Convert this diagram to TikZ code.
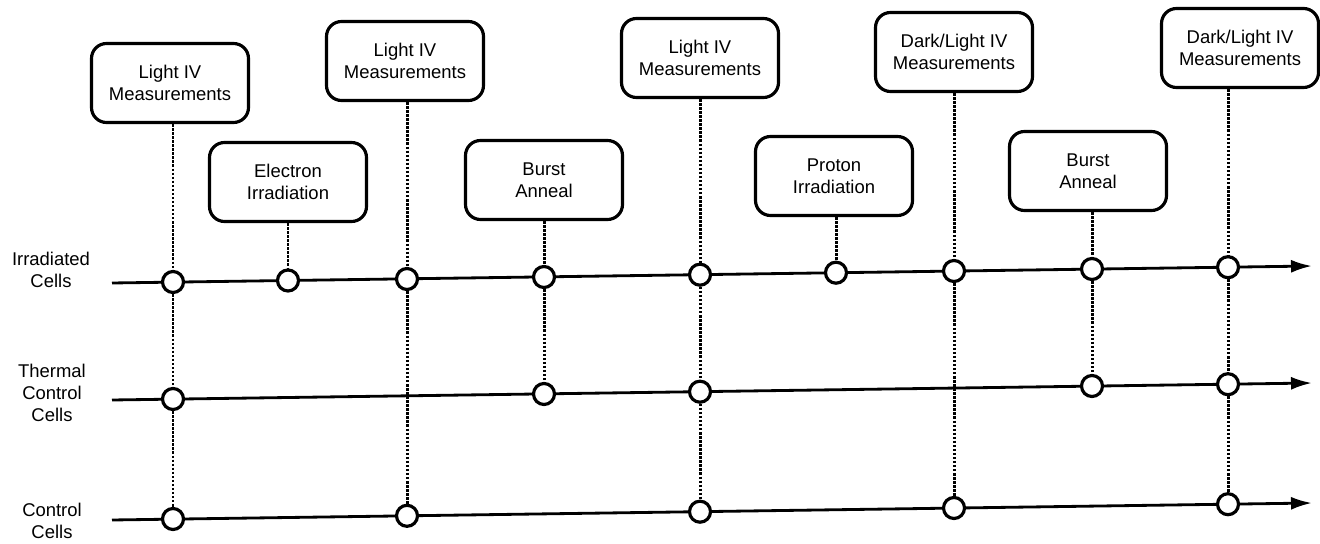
\documentclass[tikz,border=0pt]{standalone}
\usepackage{fontspec}
\setmainfont{Liberation Sans}
\usetikzlibrary{arrows.meta, positioning, calc}

\begin{document}
\begin{tikzpicture}[x=0.2mm, y=-0.2mm,
    event/.style={draw, line width=1.8pt, rounded corners=3mm, fill=white, minimum width=3.14cm, minimum height=1.58cm, align=center, font=\fontsize{10.5}{12.5}\selectfont},
    milestone/.style={circle, draw, line width=1.8pt, fill=white, inner sep=0pt, minimum size=4.2mm},
    rowlabel/.style={align=center, font=\fontsize{10.5}{12.5}\selectfont},
    timeline/.style={line width=1.6pt, -{Latex[length=4.2mm,width=2.6mm]}},
    link/.style={line width=1.7pt, dash pattern=on 1.4pt off 0.9pt}
]
    \useasboundingbox (0,0) rectangle (1320,544);

    % Row labels
    \node[rowlabel] (irrlab) at (51,270) {Irradiated\\Cells};
    \node[rowlabel] (thlab) at (52,393) {Thermal\\Control\\Cells};
    \node[rowlabel] (ctllab) at (52,521) {Control\\Cells};

    % Time lines
    \coordinate (irrS) at (112,283);
    \coordinate (irrE) at (1312,266);
    \coordinate (thS) at (112,400);
    \coordinate (thE) at (1312,383);
    \coordinate (ctlS) at (112,520);
    \coordinate (ctlE) at (1312,503);
    \draw[timeline] (irrS) -- (irrE);
    \draw[timeline] (thS) -- (thE);
    \draw[timeline] (ctlS) -- (ctlE);

    % Irradiated cells
    \node[milestone] (i1) at (173,282) {};
    \node[milestone] (i2) at (288,280.5) {};
    \node[milestone] (i3) at (407,279) {};
    \node[milestone] (i4) at (544,277) {};
    \node[milestone] (i5) at (700,274.7) {};
    \node[milestone] (i6) at (836,272.7) {};
    \node[milestone] (i7) at (954,271) {};
    \node[milestone] (i8) at (1092,269) {};
    \node[milestone] (i9) at (1228,267.2) {};

    % Thermal control cells
    \node[milestone] (t1) at (173,399) {};
    \node[milestone] (t4) at (544,394) {};
    \node[milestone] (t5) at (700,391.7) {};
    \node[milestone] (t8) at (1092,386) {};
    \node[milestone] (t9) at (1228,384.2) {};

    % Control cells
    \node[milestone] (c1) at (173,519) {};
    \node[milestone] (c3) at (407,515.8) {};
    \node[milestone] (c5) at (700,511.7) {};
    \node[milestone] (c7) at (954,508) {};
    \node[milestone] (c9) at (1228,504.2) {};

    % Steps
    \node[event] (lm1) at (170,83) {Light IV\\Measurements};
    \node[event] (ei) at (288,182) {Electron\\Irradiation};
    \node[event] (lm2) at (405,61) {Light IV\\Measurements};
    \node[event] (ba1) at (544,180) {Burst\\Anneal};
    \node[event] (lm3) at (700,58) {Light IV\\Measurements};
    \node[event] (pi) at (834,176) {Proton\\Irradiation};
    \node[event] (dl1) at (954,52) {Dark/Light IV\\Measurements};
    \node[event] (ba2) at (1088,171) {Burst\\Anneal};
    \node[event] (dl2) at (1240,48) {Dark/Light IV\\Measurements};

    % Dotted links down from the steps
    \foreach \b/\c in {lm1/i1, ei/i2, lm2/i3, ba1/i4, lm3/i5, pi/i6, dl1/i7, ba2/i8, dl2/i9}
        \draw[link] (\c |- \b.south) -- (\c.north);
    \foreach \a/\c in {i1/t1, t1/c1, i3/c3, i4/t4, i5/t5, t5/c5, i7/c7, i8/t8, i9/t9, t9/c9}
        \draw[link] (\a.south) -- (\c.north);
\end{tikzpicture}
\end{document}
